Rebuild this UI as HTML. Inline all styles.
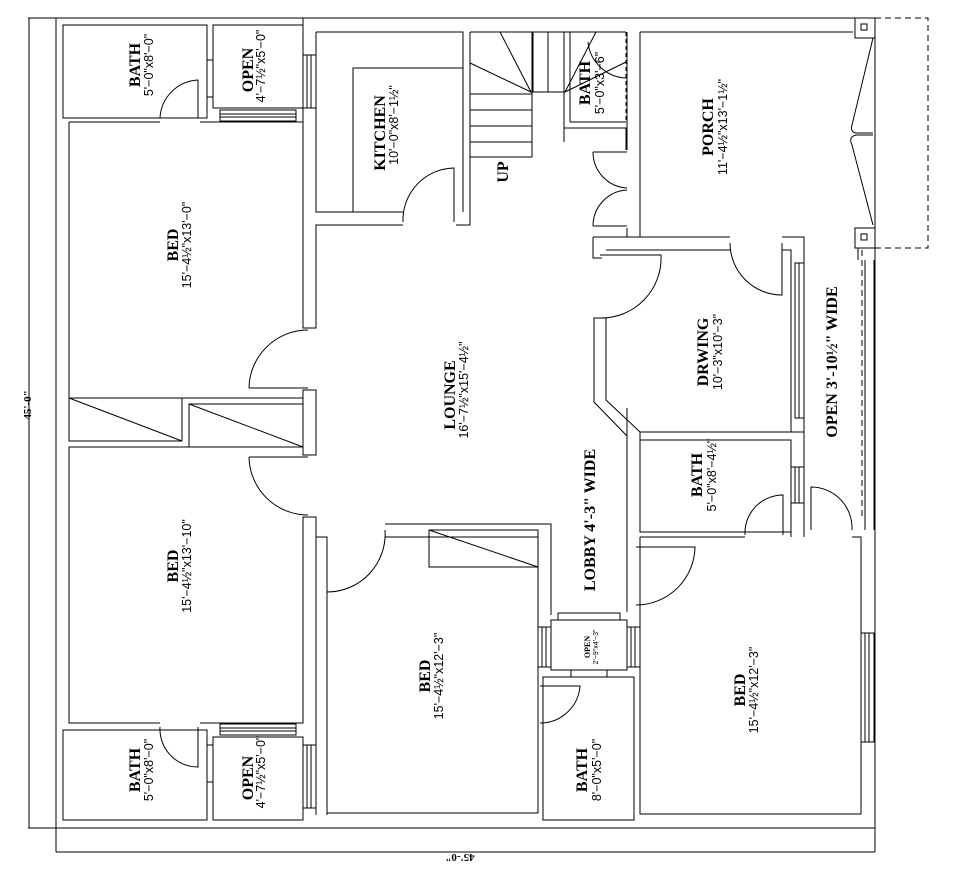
<!DOCTYPE html>
<html><head><meta charset="utf-8"><style>
html,body{margin:0;padding:0;background:#fff}
svg{display:block}
.b{font-family:"Liberation Serif",serif;font-weight:bold;font-size:16px}
.d{font-family:"Liberation Sans",sans-serif;font-size:12.5px}
</style></head><body>
<svg width="953" height="872" viewBox="0 0 953 872" xmlns="http://www.w3.org/2000/svg" fill="none" stroke="#000" stroke-width="1">
<line x1="28" y1="18" x2="875" y2="18"/>
<line x1="29" y1="18" x2="29" y2="828"/>
<line x1="56" y1="18" x2="56" y2="852"/>
<line x1="28" y1="828" x2="875" y2="828"/>
<line x1="56" y1="852" x2="875" y2="852"/>
<line x1="875" y1="18" x2="875" y2="852"/>
<line x1="303" y1="18" x2="303" y2="122"/>
<rect x="63" y="25" width="144" height="93"/>
<rect x="213" y="25" width="90" height="83"/>
<rect x="207" y="60" width="6" height="37"/>
<rect x="220" y="110" width="76" height="11"/><line x1="220" y1="114" x2="296" y2="114"/><line x1="220" y1="117" x2="296" y2="117"/>
<path d="M69 122 H160 M200 122 H303"/>
<path d="M160 118 A40 40 0 0 1 198 80 V118"/>
<path d="M69 122 V398 H303"/>
<path d="M303 122 V328 H316 V225 H403 M456 225 H470 V32"/>
<path d="M316 32 H463 V212 M316 32 V55 M316 108 V212 H403"/>
<path d="M353 212 V68 H463"/>
<rect x="303" y="55" width="13" height="53"/><line x1="307" y1="55" x2="307" y2="108"/><line x1="311" y1="55" x2="311" y2="108"/>
<path d="M403 222 A52 52 0 0 1 454 168 V222"/>
<path d="M249 388 H308 M249 388 A59 59 0 0 1 308 330"/>
<rect x="69" y="398" width="113" height="43"/><line x1="69" y1="398" x2="182" y2="441"/>
<rect x="189" y="404" width="114" height="43"/><line x1="189" y1="404" x2="303" y2="447"/>
<path d="M303 390 H316 V455 H303 Z"/>
<path d="M303 447 H69 V723 H160 M200 723 H303 V517 H316 V537 H327 V815"/>
<path d="M249 457 H308 M249 457 A59 59 0 0 0 308 515"/>
<path d="M316 517 V815"/>
<rect x="63" y="730" width="144" height="90"/>
<rect x="213" y="737" width="90" height="83"/>
<rect x="207" y="745" width="6" height="37"/>
<rect x="220" y="724" width="76" height="11"/><line x1="220" y1="728" x2="296" y2="728"/><line x1="220" y1="731" x2="296" y2="731"/>
<rect x="303" y="745" width="13" height="63"/><line x1="307" y1="745" x2="307" y2="808"/><line x1="311" y1="745" x2="311" y2="808"/>
<path d="M160 727 A38 38 0 0 0 198 767 V727"/>
<path d="M327 537 V592 A58 58 0 0 0 385 530"/>
<path d="M385 524 H551 V615 M385 537 H538 V813 H327"/>
<rect x="429" y="530" width="109" height="37"/><line x1="429" y1="530" x2="538" y2="567"/>
<rect x="551" y="620" width="76" height="50"/>
<rect x="538" y="627" width="13" height="40"/><line x1="542" y1="627" x2="542" y2="667"/><line x1="546" y1="627" x2="546" y2="667"/>
<rect x="627" y="627" width="13" height="40"/><line x1="631" y1="627" x2="631" y2="667"/><line x1="635" y1="627" x2="635" y2="667"/>
<rect x="558" y="613" width="62" height="7"/>
<rect x="571" y="670" width="36" height="7"/>
<rect x="543" y="677" width="91" height="143"/>
<path d="M540 686 H580 A40 40 0 0 1 540 723"/>
<path d="M640 537 V814 H861 V537 H852 M745 537 H640"/>
<path d="M627 540 V612 M640 540 V612"/>
<rect x="861" y="633" width="13" height="109"/><line x1="865" y1="633" x2="865" y2="742"/><line x1="869" y1="633" x2="869" y2="742"/>
<path d="M636 547 H695 A59 59 0 0 1 636 605"/>
<path d="M627 408 V547 M640 432 V532"/>
<rect x="640" y="440" width="151" height="92"/>
<path d="M640 432 H804 V537 M791 440 V537"/>
<rect x="791" y="467" width="13" height="36"/><line x1="795" y1="467" x2="795" y2="503"/><line x1="799" y1="467" x2="799" y2="503"/>
<path d="M745 535 A38 38 0 0 1 783 495 V535"/>
<path d="M811 530 V487 A41 41 0 0 1 852 530"/>
<path d="M593 237 V258 H602 M593 237 H730 M782 237 H804 V432"/>
<path d="M606 250 H730 M782 250 H791 V432 H640 L606 400 V318 H594 V402 L627 436"/>
<rect x="795" y="263" width="9" height="155"/><line x1="799" y1="263" x2="799" y2="418"/>
<path d="M600 255 H661 A60 60 0 0 1 600 318"/>
<path d="M782 243 V295 A52 52 0 0 1 730 243"/>
<path d="M640 32 H853 M640 32 V237 H730 M627 32 V150 M627 228 V237"/>
<rect x="855" y="18" width="20" height="20"/><rect x="861" y="24" width="6" height="6"/>
<rect x="855" y="228" width="20" height="20"/><rect x="861" y="234" width="6" height="6"/>
<path d="M875 18 H928 V248 H875" stroke-dasharray="6,4"/>
<path d="M873 38 L852 125 Q850 132 856 133 H873 M873 135 H856 Q848 137 852 145 L873 225"/>
<line x1="862" y1="250" x2="862" y2="520" stroke-dasharray="6,4"/>
<path d="M865 260 V530 M874 260 V530 M858 248 V260"/>
<!-- porch doors -->
<path d="M593 152 H627 M593 226 H627"/>
<path d="M593 152 A36 36 0 0 0 627 188"/>
<path d="M593 226 A36 36 0 0 1 627 190"/>
<path d="M470 32 H626 M532 32 V157 H470 M470 94 H532 M470 110 H532 M470 126 H532 M470 142 H532"/>
<path d="M470 63 L531 92 L500 32 M532 92 H565 M548 32 V92 M533 32 V92 M564 32 V142 M570 32 V122"/>
<path d="M565 92 L596 32 M565 92 L626 62 M570 122 H626 M564 128 H626 V150"/>
<line x1="626" y1="32" x2="626" y2="122" stroke-dasharray="4,3"/>
<path d="M588 42 A40 40 0 0 0 626 78"/>
<g stroke="none" fill="#000">
<text class="b" transform="translate(140,65) rotate(-90)" text-anchor="middle">BATH</text>
<text class="d" transform="translate(153,65) rotate(-90)" text-anchor="middle">5'−0"x8'−0"</text>
<text class="b" transform="translate(253,70) rotate(-90)" text-anchor="middle">OPEN</text>
<text class="d" transform="translate(265,66) rotate(-90)" text-anchor="middle">4'−7½"x5'−0"</text>
<text class="b" transform="translate(385,133) rotate(-90)" text-anchor="middle">KITCHEN</text>
<text class="d" transform="translate(398,125) rotate(-90)" text-anchor="middle">10'−0"x8'−1½"</text>
<text class="b" transform="translate(178,245) rotate(-90)" text-anchor="middle">BED</text>
<text class="d" transform="translate(191,245) rotate(-90)" text-anchor="middle">15'−4½"x13'−0"</text>
<text class="b" transform="translate(455,395) rotate(-90)" text-anchor="middle">LOUNGE</text>
<text class="d" transform="translate(468,390) rotate(-90)" text-anchor="middle">16'−7½"x15'−4½"</text>
<text class="b" transform="translate(508,172) rotate(-90)" text-anchor="middle">UP</text>
<text class="b" transform="translate(590,83) rotate(-90)" text-anchor="middle">BATH</text>
<text class="d" transform="translate(604,83) rotate(-90)" text-anchor="middle">5'−0"x3'−6"</text>
<text class="b" transform="translate(713,127) rotate(-90)" text-anchor="middle">PORCH</text>
<text class="d" transform="translate(727,127) rotate(-90)" text-anchor="middle">11'−4½"x13'−1½"</text>
<text class="b" transform="translate(708,352) rotate(-90)" text-anchor="middle">DRWING</text>
<text class="d" transform="translate(722,352) rotate(-90)" text-anchor="middle">10'−3"x10'−3"</text>
<text class="b" transform="translate(837,362) rotate(-90)" text-anchor="middle">OPEN 3'-10½" WIDE</text>
<text class="b" transform="translate(702,475) rotate(-90)" text-anchor="middle">BATH</text>
<text class="d" transform="translate(716,475) rotate(-90)" text-anchor="middle">5'−0"x8'−4½"</text>
<text class="b" transform="translate(595,520) rotate(-90)" text-anchor="middle">LOBBY 4'-3" WIDE</text>
<text class="b" transform="translate(178,566) rotate(-90)" text-anchor="middle">BED</text>
<text class="d" transform="translate(191,566) rotate(-90)" text-anchor="middle">15'−4½"x13'−10"</text>
<text class="b" transform="translate(430,676) rotate(-90)" text-anchor="middle">BED</text>
<text class="d" transform="translate(443,676) rotate(-90)" text-anchor="middle">15'−4½"x12'−3"</text>
<text class="b" style="font-size:8px" transform="translate(590,647) rotate(-90)" text-anchor="middle">OPEN</text>
<text class="d" style="font-size:7px" transform="translate(598,647) rotate(-90)" text-anchor="middle">2'−9"x4'−3"</text>
<text class="b" transform="translate(745,690) rotate(-90)" text-anchor="middle">BED</text>
<text class="d" transform="translate(758,690) rotate(-90)" text-anchor="middle">15'−4½"x12'−3"</text>
<text class="b" transform="translate(140,770) rotate(-90)" text-anchor="middle">BATH</text>
<text class="d" transform="translate(153,770) rotate(-90)" text-anchor="middle">5'−0"x8'−0"</text>
<text class="b" transform="translate(253,778) rotate(-90)" text-anchor="middle">OPEN</text>
<text class="d" transform="translate(265,772) rotate(-90)" text-anchor="middle">4'−7½"x5'−0"</text>
<text class="b" transform="translate(587,770) rotate(-90)" text-anchor="middle">BATH</text>
<text class="d" transform="translate(601,770) rotate(-90)" text-anchor="middle">8'−0"x5'−0"</text>
<text class="b" style="font-size:11px" transform="translate(31,405) rotate(-90)" text-anchor="middle">45'-0"</text>
<text class="b" style="font-size:11px" transform="translate(460,854) rotate(180)" text-anchor="middle">45'-0"</text>
</g>
</svg>
</body></html>
